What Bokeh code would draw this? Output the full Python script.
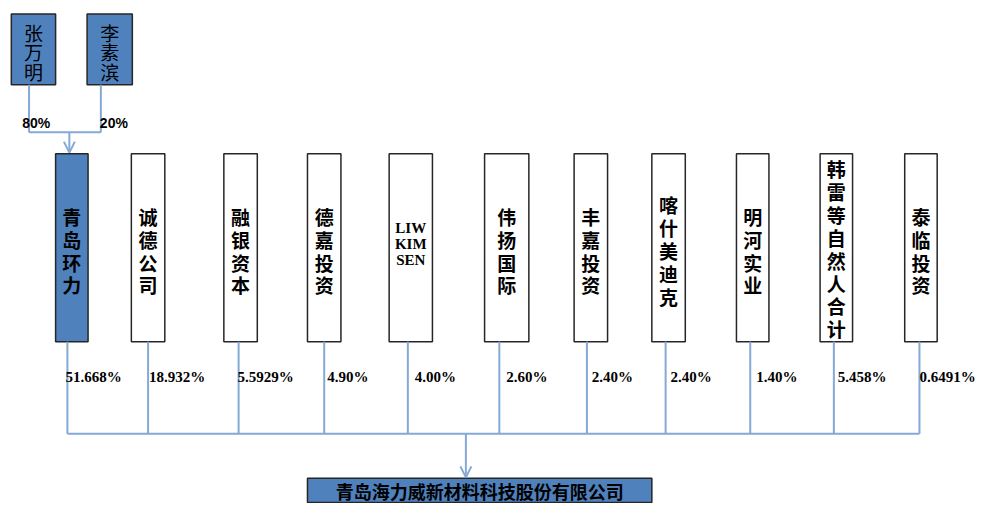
from bokeh.plotting import figure
from bokeh.models import Range1d, Arrow, OpenHead
from bokeh.core.properties import value
from bokeh.embed import file_html
from bokeh.resources import INLINE

# ---- data ----
top_names = ["张万明", "李素滨"]
top_pcts = ["80%", "20%"]
holders = ["青岛环力", "诚德公司", "融银资本", "德嘉投资", "LIW KIM SEN", "伟扬国际",
           "丰嘉投资", "喀什美迪克", "明河实业", "韩雷等自然人合计", "泰临投资"]
holder_pcts = ["51.668%", "18.932%", "5.5929%", "4.90%", "4.00%", "2.60%",
               "2.40%", "2.40%", "1.40%", "5.458%", "0.6491%"]
target = "青岛海力威新材料科技股份有限公司"

# ---- layout (reference pixel coordinates) ----
BLUE = "#4F81BD"
LINE = "#85A9D6"
EDGE = "#262626"

top_left = [11, 88]
top_right = [56, 134]
top_line_x = [29, 102]
top_pct_x = [22, 101]
top_box_top, top_box_bot = 14, 87
top_join_y = 136
top_arrow_x = 70

box_left = [56, 133, 227, 312, 395, 492, 583, 662, 748, 833, 919]
box_right = [89, 167, 261, 346, 439, 537, 617, 696, 781, 866, 952]
line_x = [68, 150, 242, 329, 414, 507, 596, 676, 762, 847, 934]
pct_x = [66, 151, 241, 332, 421, 514, 601, 681, 768, 851, 934]
box_top, box_bot = 158, 352
pct_y = 388
bus_y = 447
arrow_x = 473
tgt_left, tgt_right, tgt_top, tgt_bot = 312, 662, 493, 518

p = figure(width=978, height=503, output_backend="svg", toolbar_location=None,
           x_range=Range1d(0, 994), y_range=Range1d(519, 0), min_border=0)
p.axis.visible = False
p.grid.visible = False
p.outline_line_color = None
p.background_fill_color = "white"

# --- top shareholders ---
p.quad(left=top_left, right=top_right, top=[top_box_top] * 2, bottom=[top_box_bot] * 2,
       fill_color=BLUE, line_color=EDGE, line_width=1.5)
p.text(x=[(a + b) / 2 for a, b in zip(top_left, top_right)], y=[53] * 2,
       text=["\n".join(n) for n in top_names], text_font=value("Noto Sans CJK SC"),
       text_font_size="19px", text_align="center", text_baseline="middle",
       text_line_height=0.71, text_color="black")
for x in top_line_x:
    p.segment(x0=[x], y0=[top_box_bot], x1=[x], y1=[top_join_y], line_color=LINE, line_width=2)
p.segment(x0=[top_line_x[0]], y0=[top_join_y], x1=[top_line_x[1]], y1=[top_join_y],
          line_color=LINE, line_width=2)
p.add_layout(Arrow(end=OpenHead(size=11, line_color=LINE, line_width=2),
                   x_start=top_arrow_x, y_start=top_join_y, x_end=top_arrow_x, y_end=box_top - 1,
                   line_color=LINE, line_width=2))
p.text(x=top_pct_x, y=[126] * 2, text=top_pcts, text_font=value("Liberation Sans"),
       text_font_style="bold", text_font_size="14px", text_align="left",
       text_baseline="middle", text_color="black")

# --- second level shareholders ---
fills = [BLUE] + ["white"] * (len(holders) - 1)
p.quad(left=box_left, right=box_right, top=[box_top] * len(holders),
       bottom=[box_bot] * len(holders), fill_color=fills, line_color=EDGE, line_width=1.5)

cjk_idx = [i for i, h in enumerate(holders) if not h.isascii()]
lat_idx = [i for i, h in enumerate(holders) if h.isascii()]
p.text(x=[(box_left[i] + box_right[i]) / 2 for i in cjk_idx],
       y=[258 if len(holders[i]) < 6 else 256 for i in cjk_idx],
       text=["\n".join(holders[i]) for i in cjk_idx],
       text_font=value("Noto Sans CJK SC"), text_font_style="bold",
       text_font_size="19px", text_align="center", text_baseline="middle",
       text_line_height=0.85, text_color="black")
p.text(x=[(box_left[i] + box_right[i]) / 2 for i in lat_idx], y=[251] * len(lat_idx),
       text=["\n".join(holders[i].split(" ")) for i in lat_idx],
       text_font=value("Liberation Serif"), text_font_style="bold",
       text_font_size="15px", text_align="center", text_baseline="middle",
       text_line_height=1.0, text_color="black")

p.segment(x0=line_x, y0=[box_bot] * len(line_x), x1=line_x, y1=[bus_y] * len(line_x),
          line_color=LINE, line_width=2)
p.segment(x0=[line_x[0]], y0=[bus_y], x1=[line_x[-1]], y1=[bus_y], line_color=LINE, line_width=2)

p.text(x=pct_x, y=[pct_y] * len(holder_pcts), text=holder_pcts,
       text_font=value("Liberation Serif"), text_font_style="bold", text_font_size="15px",
       text_align="left", text_baseline="middle", text_color="black")

# --- target company ---
p.add_layout(Arrow(end=OpenHead(size=11, line_color=LINE, line_width=2),
                   x_start=arrow_x, y_start=bus_y, x_end=arrow_x, y_end=tgt_top - 1,
                   line_color=LINE, line_width=2))
p.quad(left=[tgt_left], right=[tgt_right], top=[tgt_top], bottom=[tgt_bot],
       fill_color=BLUE, line_color=EDGE, line_width=1.5)
p.text(x=[(tgt_left + tgt_right) / 2], y=[(tgt_top + tgt_bot) / 2 + 1], text=[target],
       text_font=value("Noto Sans CJK SC"), text_font_style="bold", text_font_size="18px",
       text_align="center", text_baseline="middle", text_color="black")

open("out.html", "w").write(file_html(p, INLINE))
